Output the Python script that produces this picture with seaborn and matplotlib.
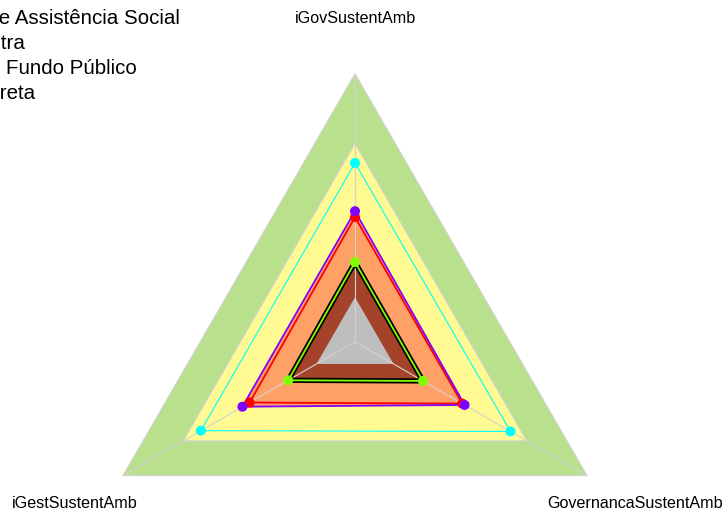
import numpy as np
import pandas as pd
import matplotlib.pyplot as plt
import seaborn as sns
from matplotlib.font_manager import FontProperties

# dados do radar
eixos = ['iGovSustentAmb', 'iGestSustentAmb', 'GovernancaSustentAmb']
grupos = ['Secretaria de Assistência Social', 'Entidade Outra',
          'Autarquia ou Fundo Público', 'Administração Direta']
cores = ['#00FFFF', '#8000FF', '#FF0000', '#7FFF00']
valores_assist = [0.667, 0.664, 0.670]
valores_outra = [0.487, 0.485, 0.472]
valores_fundo = [0.465, 0.454, 0.462]
valores_direta = [0.297, 0.288, 0.293]

# faixas de referência (limite externo de cada faixa)
faixas_lim = [0.166, 0.28, 0.48, 0.74, 1.0]
faixas_cor = ['#BEBEBE', '#A5432A', '#FFA066', '#FFFA91', '#B9E08C']

sns.set_style('white')
plt.rcParams['font.family'] = ['Liberation Sans', 'DejaVu Sans']
plt.rcParams['text.color'] = 'black'

W, H = 724, 513
cx, cy, R = 355, 341.7, 268
fig = plt.figure(figsize=(W / 100, H / 100), dpi=100)
ax = fig.add_axes([0, 0, 1, 1])
ax.axis('off')

ang = np.deg2rad([90, 210, 330])
cs, sn = np.cos(ang), np.sin(ang)

# faixas, da maior para a menor
for i in range(len(faixas_lim) - 1, -1, -1):
    r = faixas_lim[i]
    borda = '#D3D3D3' if i >= 3 else 'none'
    ax.fill(r * cs, r * sn, facecolor=faixas_cor[i], edgecolor=borda, lw=0.8, zorder=1)

# eixos radiais
for c, s in zip(cs, sn):
    ax.plot([0, c], [0, s], color='#D3D3D3', lw=0.8, zorder=2)

# tabela longa com as coordenadas
series = [valores_assist, valores_outra, valores_fundo, valores_direta]
linhas = []
for g, vals in zip(grupos, series):
    for e, v, c, s in zip(eixos, vals, cs, sn):
        linhas.append({'grupo': g, 'eixo': e, 'valor': v, 'x': v * c, 'y': v * s})
df = pd.DataFrame(linhas)

# ordem de desenho: o roxo fica por cima do vermelho
ordem = [0, 2, 1, 3]
larguras = [0.8, 1.3, 1.3, 1.3]
for k in ordem:
    g, cor, lw = grupos[k], cores[k], larguras[k]
    d = df[df['grupo'] == g]
    xs = list(d['x']) + [d['x'].iloc[0]]
    ys = list(d['y']) + [d['y'].iloc[0]]
    if k == 3:
        ax.plot(xs, ys, color='black', lw=3.8, zorder=3)
    ax.plot(xs, ys, color=cor, lw=lw, zorder=3)

df_pts = pd.concat([df[df['grupo'] == grupos[k]] for k in ordem])
sns.scatterplot(data=df_pts, x='x', y='y', hue='grupo', palette=dict(zip(grupos, cores)),
                s=52, linewidth=0, legend=False, zorder=5, ax=ax)
ax.set_xlim(-cx / R, (W - cx) / R)
ax.set_ylim(-(H - cy) / R, cy / R)

# rótulos dos eixos
for e, c, s in zip(eixos, cs, sn):
    ax.text(1.207 * c, 1.207 * s, e, ha='center', va='center', fontsize=11.65, color='black')

# legenda cortada pela borda esquerda, como no original:
# cada rótulo é deslocado para que o trecho visível comece na borda
fonte = FontProperties(family=['Liberation Sans', 'DejaVu Sans'], size=14.76)
renderer = fig.canvas.get_renderer()
trechos = ['e Assistência Social', 'tra', ' Fundo Público', 'reta']
inicio = [-0.8, 0.6, 0.0, -0.4]
base = [24.3, 49.3, 74.0, 99.0]
for g, t, x0, yb in zip(grupos, trechos, inicio, base):
    prefixo = g[:len(g) - len(t)]
    w = renderer.get_text_width_height_descent(prefixo, fonte, ismath=False)[0]
    fig.text((x0 - w) / W, 1 - yb / H, g, fontproperties=fonte, color='black',
             ha='left', va='baseline')

fig.savefig('out.png', dpi=100)
